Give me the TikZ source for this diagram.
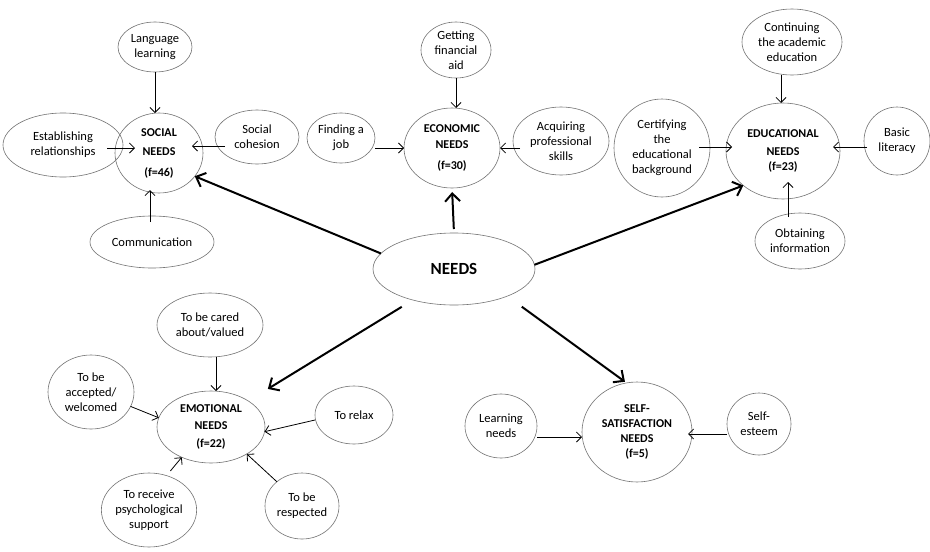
\documentclass[tikz,border=0pt]{standalone}
\usepackage{fontspec}
\setmainfont{Carlito}
\usetikzlibrary{shapes.geometric,arrows.meta}
\begin{document}
\begin{tikzpicture}[x=1pt,y=-1pt,
  bub/.style={ellipse, draw=black!55, line width=0.6pt, inner sep=0pt, outer sep=0pt, align=center, font=\fontsize{12.5}{15}\selectfont},
  hub/.style={bub, font=\bfseries\fontsize{12}{15}\selectfont},
  thinarr/.style={-{Straight Barb[length=5pt,width=10pt]}, line width=0.8pt},
  thickarr/.style={-{Straight Barb[length=8pt,width=15pt]}, line width=2pt}]
\useasboundingbox[fill=white] (0,0) rectangle (930,552);

% central
\node[bub, minimum width=162pt, minimum height=72pt, font=\bfseries\fontsize{17}{20}\selectfont] (needs) at (454,269) {NEEDS};

% social
\node[hub, minimum width=88pt, minimum height=80pt] (social) at (159,153) {SOCIAL\\[4pt]NEEDS\\[6pt](f=46)};
\node[bub, minimum width=74pt, minimum height=50pt] (lang) at (155,47) {Language\\learning};
\node[bub, minimum width=120pt, minimum height=64pt] (estab) at (63,145) {Establishing\\relationships};
\node[bub, minimum width=84pt, minimum height=54pt] (cohes) at (257,137) {Social\\cohesion};
\node[bub, minimum width=124pt, minimum height=52pt] (comm) at (152,242) {Communication};

% economic
\node[hub, minimum width=96pt, minimum height=80pt] (econ) at (452,148) {ECONOMIC\\[1pt]NEEDS\\[6pt](f=30)};
\node[bub, minimum width=70pt, minimum height=56pt] (aid) at (456,50) {Getting\\financial\\aid};
\node[bub, minimum width=68pt, minimum height=50pt] (job) at (341,138) {Finding a\\job};
\node[bub, minimum width=96pt, minimum height=68pt] (acq) at (561,141) {Acquiring\\professional\\skills};

% educational
\node[hub, minimum width=114pt, minimum height=96pt] (edu) at (783,151) {EDUCATIONAL\\[3pt]NEEDS\\(f=23)};
\node[bub, minimum width=100pt, minimum height=66pt] (cont) at (792,42) {Continuing\\the academic\\education};
\node[bub, minimum width=96pt, minimum height=98pt] (cert) at (662,148) {Certifying\\the\\educational\\background};
\node[bub, minimum width=66pt, minimum height=68pt] (basic) at (897,141) {Basic\\literacy};
\node[bub, minimum width=90pt, minimum height=56pt] (obt) at (800,241) {Obtaining\\information};

% emotional
\node[hub, minimum width=108pt, minimum height=72pt] (emo) at (211,427) {EMOTIONAL\\[2pt]NEEDS\\[3pt](f=22)};
\node[bub, minimum width=106pt, minimum height=64pt] (cared) at (210,325) {To be cared\\about/valued};
\node[bub, minimum width=86pt, minimum height=74pt] (acc) at (91,392) {To be\\accepted/\\welcomed};
\node[bub, minimum width=78pt, minimum height=58pt] (relax) at (354,415) {To relax};
\node[bub, minimum width=92pt, minimum height=74pt] (psych) at (149,510) {To receive\\psychological\\support};
\node[bub, minimum width=74pt, minimum height=66pt] (resp) at (302,506) {To be\\respected};

% self-satisfaction
\node[hub, minimum width=110pt, minimum height=100pt] (self) at (637,432) {SELF-\\SATISFACTION\\NEEDS\\(f=5)};
\node[bub, minimum width=72pt, minimum height=64pt] (learn) at (501,426) {Learning\\needs};
\node[bub, minimum width=64pt, minimum height=62pt] (est) at (759,424) {Self-\\esteem};

% thick arrows from NEEDS
\draw[thickarr] (needs.168) -- (social.-33);
\draw[thickarr, shorten <=4pt, shorten >=4pt] (needs.north) -- (econ.south);
\draw[thickarr] (needs.3) -- (edu.221);
\draw[thickarr, shorten <=13pt, shorten >=23pt] (needs.217) -- (emo.35);
\draw[thickarr, shorten <=18pt, shorten >=2pt] (needs.-27) -- (self.102);

% social arrows
\draw[thinarr] (lang.south) -- (lang.south |- social.north);
\draw[thinarr] ([xshift=-16pt,yshift=-3pt]estab.east) -- ([xshift=20pt,yshift=5pt]social.west);
\draw[thinarr] ([xshift=10pt,yshift=-9pt]cohes.west) -- ([xshift=-11pt,yshift=7pt]social.east);
\draw[thinarr] ([xshift=-2pt,yshift=-6pt]comm.north) -- ([xshift=-9pt,yshift=3pt]social.south);

% economic arrows
\draw[thinarr] (aid.south) -- (aid.south |- econ.north);
\draw[thinarr] ([yshift=-10pt]job.east) -- (econ.west);
\draw[thinarr] ([xshift=7pt,yshift=-7pt]acq.west) -- (econ.east);

% educational arrows
\draw[thinarr] ([xshift=-11pt]cont.south) -- ([xshift=-2pt]edu.north);
\draw[thinarr] ([xshift=-11pt,yshift=1pt]cert.east) -- ([xshift=6pt,yshift=4pt]edu.west);
\draw[thinarr] ([xshift=3pt,yshift=-6pt]basic.west) -- ([xshift=-7pt,yshift=4pt]edu.east);
\draw[thinarr] ([xshift=-12pt,yshift=-4pt]obt.north) -- ([xshift=5pt,yshift=17pt]edu.south);

% emotional arrows
\draw[thinarr] ([xshift=6pt]cared.south) -- ([xshift=5pt]emo.north);
\draw[thinarr] (acc.-20) -- (emo.170);
\draw[thinarr] ([yshift=-5pt]relax.west) -- (emo.-5);
\draw[thinarr, shorten <=6pt] (psych.63) -- (emo.226);
\draw[thinarr] (resp.136) -- (emo.-37);

% self arrows
\draw[thinarr] ([yshift=-11pt]learn.east) -- ([yshift=-5pt]self.west);
\draw[thinarr] ([yshift=-10pt]est.west) -- ([xshift=-4pt,yshift=-2pt]self.east);
\end{tikzpicture}
\end{document}
